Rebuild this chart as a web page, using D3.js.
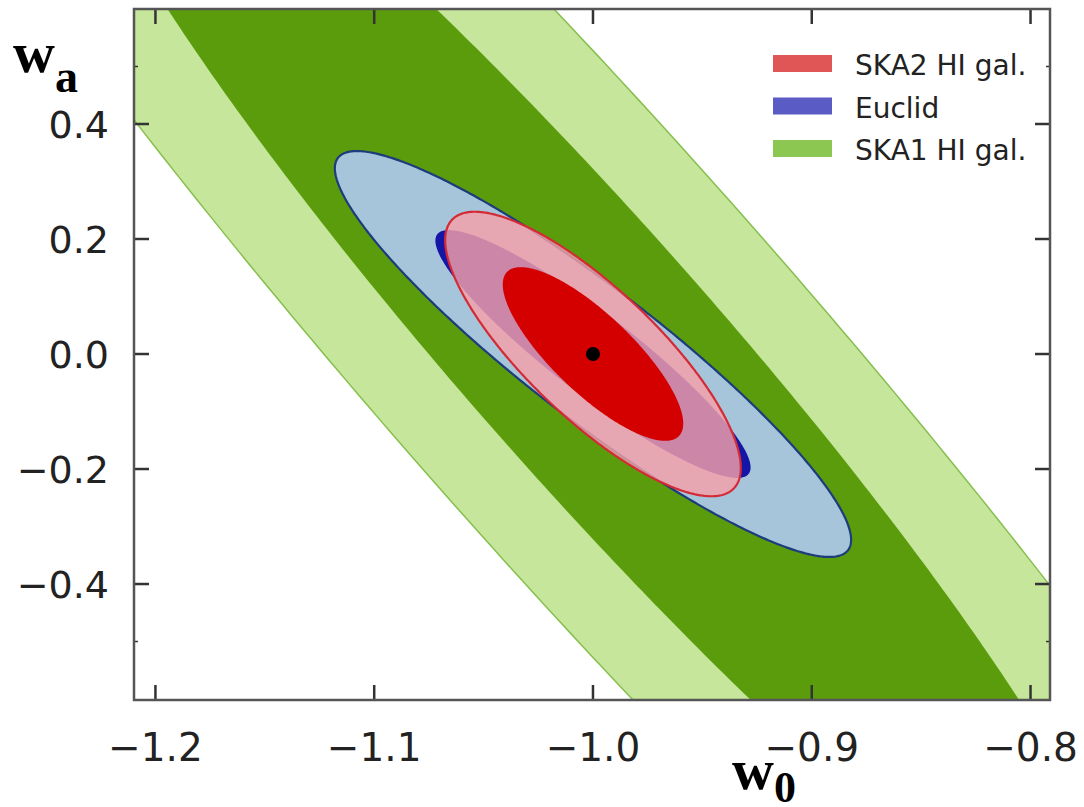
<!DOCTYPE html>
<html>
<head>
<meta charset="utf-8">
<script src="https://cdn.jsdelivr.net/npm/d3@7"></script>
<style>
  html, body { margin: 0; padding: 0; background: #ffffff; }
  svg { display: block; }
</style>
</head>
<body>
<svg id="chart" width="1084" height="807"></svg>
<script>
// ---------------- data ----------------
const surveys   = ["SKA1 HI gal.", "Euclid", "SKA2 HI gal."];
const sigmaW0   = [0.1602, 0.0475, 0.0272];   // 1-parameter errors on w0
const sigmaWa   = [0.687, 0.1421, 0.0996];    // 1-parameter errors on wa
const rho       = [-0.951, -0.915, -0.80];    // w0-wa correlation
const fiducial  = [-1.0, 0.0];                // (w0, wa)
const chi2Levels = [6.17, 2.30];              // 2-sigma (outer), 1-sigma (inner)
const legendOrder = ["SKA2 HI gal.", "Euclid", "SKA1 HI gal."];
const xTicks = [-1.2, -1.1, -1.0, -0.9, -0.8];
const yTicks = [-0.4, -0.2, 0.0, 0.2, 0.4];
const yMinorTicks = [-0.5, 0.5];
const xDomain = [-1.2098, -0.7911];
const yDomain = [-0.6017, 0.6];

// ---------------- styles ----------------
const fills = {
  "SKA1 HI gal.": ["#c5e69b", "#5b9c0c"],
  "Euclid":       ["#a6c5da", "#1515a6"],
  "SKA2 HI gal.": ["#f4a0a8", "#d40000"]
};
const outerStroke = {
  "SKA1 HI gal.": "#86bf4e",
  "Euclid": "#1d3c7c",
  "SKA2 HI gal.": "#d42a35"
};
const outerOpacity = { "SKA1 HI gal.": 1, "Euclid": 1, "SKA2 HI gal.": 0.82 };
const legendColor = { "SKA2 HI gal.": "#e05656", "Euclid": "#5b5bc6", "SKA1 HI gal.": "#8cc752" };

const L = 134, R = 1050, T = 9, B = 700;
const svg = d3.select("#chart");
const x = d3.scaleLinear().domain(xDomain).range([L, R]);
const y = d3.scaleLinear().domain(yDomain).range([B, T]);

svg.append("defs").append("clipPath").attr("id", "plotclip")
  .append("rect").attr("x", L).attr("y", T).attr("width", R - L).attr("height", B - T);

const plot = svg.append("g").attr("clip-path", "url(#plotclip)");

function ellipsePoints(i, chi2) {
  const k = Math.sqrt(chi2);
  const sx = sigmaW0[i], sy = sigmaWa[i], r = rho[i];
  return d3.range(0, 2 * Math.PI, Math.PI / 240).map(t => {
    const dx = k * sx * Math.cos(t);
    const dy = k * sy * (r * Math.cos(t) + Math.sqrt(1 - r * r) * Math.sin(t));
    return [fiducial[0] + dx, fiducial[1] + dy];
  });
}
const line = d3.line().x(d => x(d[0])).y(d => y(d[1])).curve(d3.curveLinearClosed);

surveys.forEach((name, i) => {
  plot.append("path")
    .attr("d", line(ellipsePoints(i, chi2Levels[0])))
    .attr("fill", fills[name][0])
    .attr("fill-opacity", outerOpacity[name])
    .attr("stroke", outerStroke[name])
    .attr("stroke-width", name === "SKA1 HI gal." ? 1.5 : 2.2);
  plot.append("path")
    .attr("d", line(ellipsePoints(i, chi2Levels[1])))
    .attr("fill", fills[name][1])
    .attr("stroke", "none");
});

plot.append("circle")
  .attr("cx", x(fiducial[0])).attr("cy", y(fiducial[1]))
  .attr("r", 7).attr("fill", "#000");

// ---------------- frame & ticks ----------------
const tickColor = "#333";
const ax = svg.append("g");
xTicks.forEach(v => {
  ax.append("line").attr("x1", x(v)).attr("x2", x(v)).attr("y1", B).attr("y2", B - 15)
    .attr("stroke", tickColor).attr("stroke-width", 2.5);
  ax.append("line").attr("x1", x(v)).attr("x2", x(v)).attr("y1", T).attr("y2", T + 15)
    .attr("stroke", tickColor).attr("stroke-width", 2.5);
});
yTicks.forEach(v => {
  ax.append("line").attr("x1", L).attr("x2", L + 15).attr("y1", y(v)).attr("y2", y(v))
    .attr("stroke", tickColor).attr("stroke-width", 2.5);
  ax.append("line").attr("x1", R).attr("x2", R - 15).attr("y1", y(v)).attr("y2", y(v))
    .attr("stroke", tickColor).attr("stroke-width", 2.5);
});
yMinorTicks.forEach(v => {
  ax.append("line").attr("x1", L).attr("x2", L + 4).attr("y1", y(v)).attr("y2", y(v))
    .attr("stroke", tickColor).attr("stroke-width", 1.5);
  ax.append("line").attr("x1", R).attr("x2", R - 4).attr("y1", y(v)).attr("y2", y(v))
    .attr("stroke", tickColor).attr("stroke-width", 1.5);
});
ax.append("rect").attr("x", L).attr("y", T).attr("width", R - L).attr("height", B - T)
  .attr("fill", "none").attr("stroke", "#555").attr("stroke-width", 2.5);

const fmt = v => d3.format(".1f")(v).replace("-", "\u2212");
xTicks.forEach(v => {
  svg.append("text").attr("x", x(v)).attr("y", 761)
    .attr("text-anchor", "middle")
    .attr("font-family", "DejaVu Sans").attr("font-size", 39).attr("fill", "#222")
    .text(fmt(v));
});
yTicks.forEach(v => {
  svg.append("text").attr("x", 109).attr("y", y(v) + 14)
    .attr("text-anchor", "end")
    .attr("font-family", "DejaVu Sans").attr("font-size", 38).attr("fill", "#222")
    .text(fmt(v));
});

// axis labels
const yl = svg.append("text").attr("x", 13).attr("y", 72)
  .attr("font-family", "Liberation Serif").attr("font-weight", "bold").attr("fill", "#000");
yl.append("tspan").attr("font-size", 58).text("w");
yl.append("tspan").attr("font-size", 46).attr("dy", 20).text("a");

const xl = svg.append("text").attr("x", 732).attr("y", 789)
  .attr("font-family", "Liberation Serif").attr("font-weight", "bold").attr("fill", "#000");
xl.append("tspan").attr("font-size", 58).text("w");
xl.append("tspan").attr("font-size", 44).attr("dy", 13).text("0");

// legend
legendOrder.forEach((name, j) => {
  const yy = 55 + j * 42.5;
  svg.append("rect").attr("x", 773).attr("y", yy).attr("width", 59).attr("height", 17)
    .attr("fill", legendColor[name]);
  svg.append("text").attr("x", 855).attr("y", yy + 20)
    .attr("font-family", "DejaVu Sans").attr("font-size", 28).attr("fill", "#222")
    .text(name);
});
</script>
</body>
</html>
